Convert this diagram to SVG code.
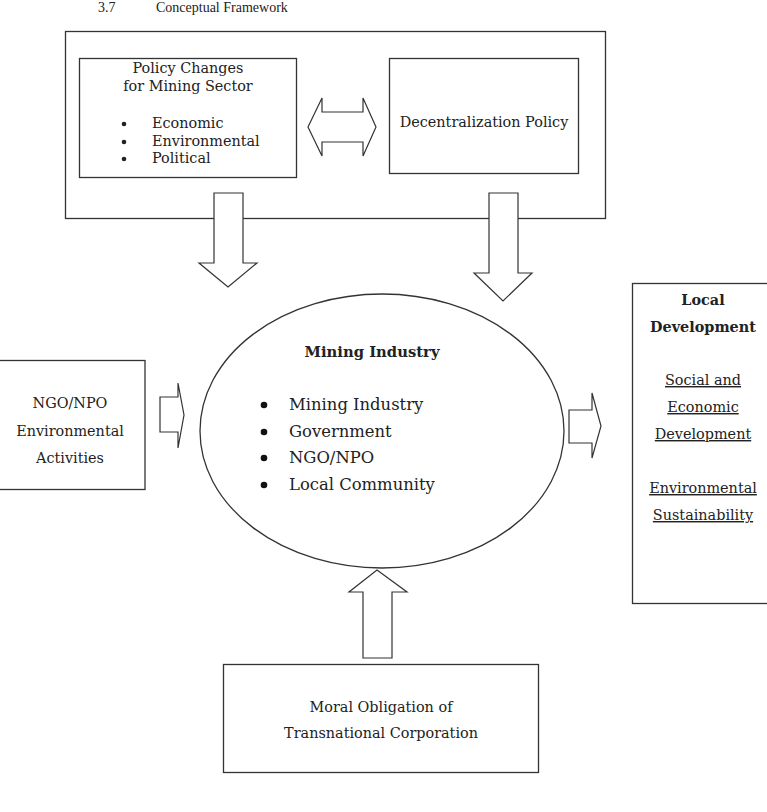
<svg xmlns="http://www.w3.org/2000/svg" width="767" height="812" viewBox="0 0 767 812">
<style>
.box{fill:#fff;stroke:#333;stroke-width:1.3}
.arr{fill:#fff;stroke:#333;stroke-width:1.2;stroke-linejoin:miter}
.t{font-family:"DejaVu Serif","Liberation Serif",serif;font-size:14.4px;fill:#222}
.c{text-anchor:middle}
.b{font-weight:bold}
.u{text-decoration:underline}
.m{font-size:16.4px}
.title{font-family:"Liberation Serif",serif;font-size:14px;fill:#222}
</style>
<rect width="767" height="812" fill="#fff"/>
<text class="title" x="98" y="12">3.7</text>
<text class="title" x="156" y="12">Conceptual Framework</text>

<g id="outer-frame">
<rect class="box" x="65.5" y="31.5" width="540" height="187"/>
</g>

<g id="policy-changes">
<rect class="box" x="79.5" y="58.5" width="217" height="119"/>
<text class="t c" x="188" y="73">Policy Changes</text>
<text class="t c" x="188" y="91">for Mining Sector</text>
<circle cx="124" cy="124" r="2.3" fill="#222"/>
<circle cx="124" cy="142" r="2.3" fill="#222"/>
<circle cx="124" cy="159" r="2.3" fill="#222"/>
<text class="t" x="152" y="128">Economic</text>
<text class="t" x="152" y="146">Environmental</text>
<text class="t" x="152" y="163">Political</text>
</g>

<g id="decentralization">
<rect class="box" x="389.5" y="58.5" width="189" height="115"/>
<text class="t c" x="484" y="127">Decentralization Policy</text>
</g>

<g id="mining-industry">
<ellipse cx="382" cy="431" rx="182" ry="137" fill="#fff" stroke="#333" stroke-width="1.3"/>
<text class="t c b" x="372" y="357" style="font-size:14.8px">Mining Industry</text>
<circle cx="264" cy="405" r="3.3" fill="#111"/>
<circle cx="264" cy="432" r="3.3" fill="#111"/>
<circle cx="264" cy="458" r="3.3" fill="#111"/>
<circle cx="264" cy="485" r="3.3" fill="#111"/>
<text class="t m" x="289" y="410">Mining Industry</text>
<text class="t m" x="289" y="437">Government</text>
<text class="t m" x="289" y="463">NGO/NPO</text>
<text class="t m" x="289" y="490">Local Community</text>
</g>

<g id="ngo-npo">
<rect class="box" x="-1" y="360.5" width="146" height="129"/>
<text class="t c" x="70" y="408">NGO/NPO</text>
<text class="t c" x="70" y="436">Environmental</text>
<text class="t c" x="70" y="463">Activities</text>
</g>

<g id="local-development">
<rect class="box" x="632.5" y="283.5" width="140" height="320"/>
<text class="t c b" x="703" y="305">Local</text>
<text class="t c b" x="703" y="332">Development</text>
<text class="t c u" x="703" y="385">Social and</text>
<text class="t c u" x="703" y="412">Economic</text>
<text class="t c u" x="703" y="439">Development</text>
<text class="t c u" x="703" y="493">Environmental</text>
<text class="t c u" x="703" y="520">Sustainability</text>
</g>

<g id="moral-obligation">
<rect class="box" x="223.5" y="664.5" width="315" height="108"/>
<text class="t c" x="381" y="712">Moral Obligation of</text>
<text class="t c" x="381" y="738">Transnational Corporation</text>
</g>

<g id="connectors">
<polygon class="arr" points="308,127 322,98 322,112 363,112 363,98 376,127 363,156 363,142 322,142 322,156"/>
<polygon class="arr" points="214,193 243,193 243,263 257,263 228,287 199,263 214,263"/>
<polygon class="arr" points="489,193 518,193 518,273 532,273 503,301 474,273 489,273"/>
<polygon class="arr" points="160,397 178,397 178,383 184,415 178,448 178,432 160,432"/>
<polygon class="arr" points="569,410 592,410 592,393 601,426 592,458 592,443 569,443"/>
<polygon class="arr" points="363,658 392,658 392,592 407,592 377,570 349,592 363,592"/>
</g>
</svg>
